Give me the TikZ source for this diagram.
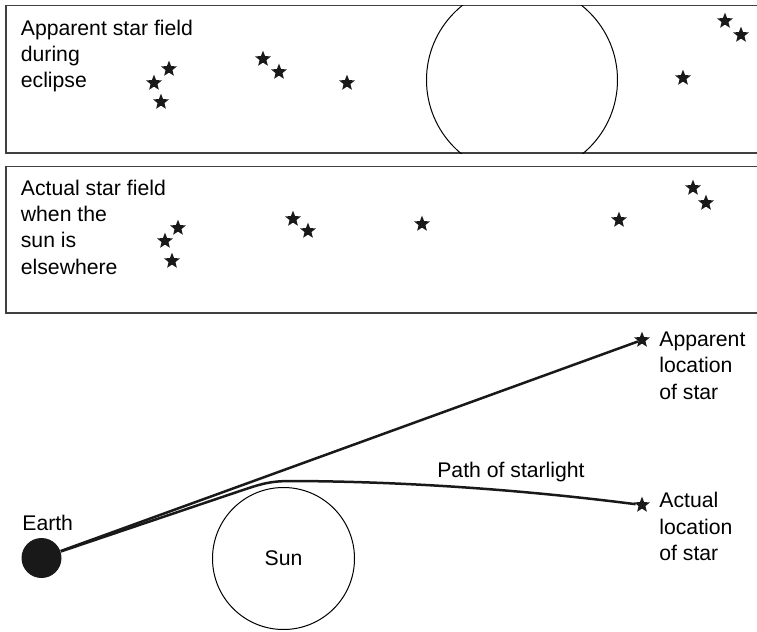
\documentclass[tikz,border=0pt]{standalone}
\usepackage{fontspec}
\setmainfont{Liberation Sans}
\usepackage{tikz}
\usetikzlibrary{shapes.geometric,positioning,calc}

\begin{document}
\begin{tikzpicture}[x=0.5pt, y=-0.5pt,
    font=\fontsize{10.6}{13.2}\selectfont,
    fieldbox/.style={draw=black!75, line width=0.7pt},
    fieldtext/.style={align=left, inner sep=0pt, anchor=north west},
    starmark/.style={star, star points=5, star point ratio=2.3, fill=black!90, draw=none, inner sep=0pt, minimum size=8.3pt},
    ray/.style={line width=1.25pt, black!90},
    sunbody/.style={circle, draw, line width=0.5pt, minimum size=71pt, inner sep=0pt},
    earthball/.style={circle, fill=black!90, minimum size=20pt, inner sep=0pt}]
    \useasboundingbox (0,0) rectangle (757,632);

    % Star field during eclipse
    \draw [fieldbox] (757,5.7) -- (6,5.7) -- (6,153) -- (757,153);
    \begin{scope}
        \clip (6,5.7) rectangle (757,153);
        \draw [line width=0.5pt] (522,80) circle [radius=95.5];
    \end{scope}
    \node [fieldtext] (eclipsetext) at (20.5,19.3) {Apparent star field\\during\\eclipse};
    \node [starmark] (ea) at (169,69) {};
    \node [starmark] (eb) at (154,83) {};
    \node [starmark] (ec) at (161,102) {};
    \node [starmark] (ed) at (263,59) {};
    \node [starmark] (ee) at (279,72) {};
    \node [starmark] (ef) at (347,83) {};
    \node [starmark] (eg) at (683,78) {};
    \node [starmark] (eh) at (725,21) {};
    \node [starmark] (ei) at (741,35) {};

    % Star field without the sun
    \draw [fieldbox] (757,166.5) -- (6,166.5) -- (6,313) -- (757,313);
    \node [fieldtext] (actualtext) at (20.5,179.3) {Actual star field\\when the\\sun is\\elsewhere};
    \node [starmark] (aa) at (178,228) {};
    \node [starmark] (ab) at (165,241) {};
    \node [starmark] (ac) at (172,261) {};
    \node [starmark] (ad) at (293,219) {};
    \node [starmark] (ae) at (308,231) {};
    \node [starmark] (af) at (422,224) {};
    \node [starmark] (ag) at (619,220) {};
    \node [starmark] (ah) at (693,188) {};
    \node [starmark] (ai) at (706,203) {};

    % Light bending past the sun
    \node [sunbody] (sun) at (283.5,558.5) {Sun};
    \node [earthball] (earth) at (41.5,558) {};
    \node (earthlabel) at (47.7,523) {Earth};
    \node [starmark] (appstar) at (642,340) {};
    \node [starmark] (actstar) at (642,505) {};
    \node [fieldtext] (applabel) at (659,331.5) {Apparent\\location\\of star};
    \node [fieldtext] (actlabel) at (659,492) {Actual\\location\\of star};

    \coordinate (bend) at (240,491);
    \draw [ray] (earth) -- (appstar);
    \draw [ray] (earth) -- (bend) .. controls (262,483.6) and (270,481) .. (292,481)
        .. controls (420,481.5) and (540,492) .. (actstar);
    \node (pathlabel) at (511,472) {Path of starlight};
\end{tikzpicture}
\end{document}
